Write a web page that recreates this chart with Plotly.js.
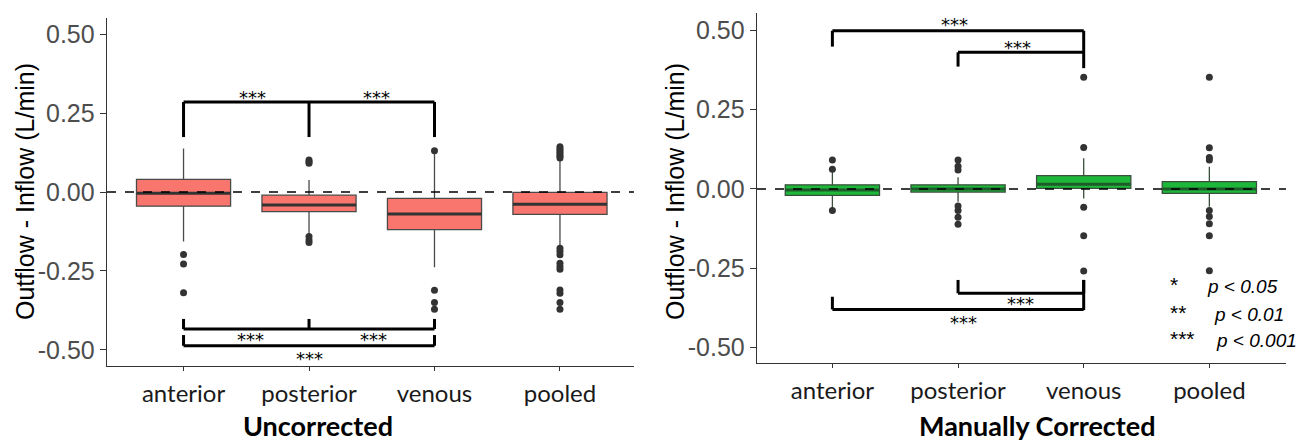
<!DOCTYPE html>
<html>
<head>
<meta charset="utf-8">
<script src="https://cdn.plot.ly/plotly-3.0.1.min.js"></script>
<style>html,body{margin:0;padding:0;background:#fff;}#chart{width:1297px;height:443px;}</style>
</head>
<body>
<div id="chart"></div>
<script>
// ---------- data ----------
const categories = ["anterior", "posterior", "venous", "pooled"];

// Uncorrected (left panel) box statistics
const uncQ1     = [-0.045, -0.062, -0.119, -0.071];
const uncMedian = [-0.004, -0.041, -0.070, -0.039];
const uncQ3     = [ 0.040, -0.010, -0.020, -0.001];
const uncLower  = [-0.157, -0.131, -0.238, -0.173];
const uncUpper  = [ 0.138,  0.038,  0.126,  0.105];
// Uncorrected outliers
const uncOutAnterior  = [-0.198, -0.228, -0.319];
const uncOutPosterior = [0.101, 0.096, 0.091, -0.141, -0.152, -0.160];
const uncOutVenous    = [0.131, -0.311, -0.350, -0.371];
const uncOutPooled    = [0.143, 0.137, 0.131, 0.125, 0.119, 0.113, 0.108,
                         -0.178, -0.188, -0.199, -0.226, -0.236, -0.245,
                         -0.310, -0.321, -0.350, -0.371];

// Manually corrected (right panel) box statistics
const corQ1     = [-0.020, -0.010, 0.002, -0.014];
const corMedian = [-0.003,  0.000, 0.015,  0.000];
const corQ3     = [ 0.013,  0.013, 0.042,  0.023];
const corLower  = [-0.060, -0.040, -0.030, -0.056];
const corUpper  = [ 0.055,  0.037,  0.097,  0.070];
// Manually corrected outliers
const corOutAnterior  = [0.091, 0.062, -0.068];
const corOutPosterior = [0.091, 0.072, 0.060, -0.054, -0.068, -0.089, -0.111];
const corOutVenous    = [0.352, 0.131, -0.058, -0.148, -0.259];
const corOutPooled    = [0.352, 0.130, 0.099, 0.091, -0.068, -0.087, -0.110, -0.148, -0.258];

// significance brackets: [fromCategoryIndex, toCategoryIndex, barLevel, leftTipLevel, rightTipLevel]
const uncBrackets = [
  [0, 2, 0.285, 0.174, 0.174],
  [1, 1, 0.285, 0.174, 0.174],
  [0, 2, -0.434, -0.402, -0.402],
  [1, 1, -0.434, -0.402, -0.402],
  [0, 2, -0.487, -0.453, -0.453]
];
const corBrackets = [
  [0, 2, 0.499, 0.449, 0.381],
  [1, 2, 0.431, 0.386, 0.431],
  [1, 2, -0.329, -0.287, -0.287],
  [2, 2, -0.382, -0.287, -0.287],
  [0, 2, -0.380, -0.340, -0.380]
];
// star labels: [xPosition (category units), yLevel]
const uncStars = [[0.55, 0.300], [1.54, 0.300], [0.53, -0.468], [1.51, -0.468], [1.0, -0.526]];
const corStars = [[0.97, 0.520], [1.47, 0.446], [1.50, -0.362], [1.04, -0.420]];

const legendStars = ["*", "**", "***"];
const legendTexts = ["p < 0.05", "p < 0.01", "p < 0.001"];
const yTitle = "Outflow - Inflow (L/min)";

// ---------- styling ----------
const red = "#F8766D";
const green = "#1DB83A";
const outlineCol = "#4a4a4a";
const pointCol = "#333333";

function outlierTrace(outs, xa, ya) {
  const xs = [], ys = [];
  outs.forEach((arr, i) => arr.forEach(v => { xs.push(categories[i]); ys.push(v); }));
  return {type: "scatter", mode: "markers", x: xs, y: ys, xaxis: xa, yaxis: ya,
          marker: {color: pointCol, size: 7}, showlegend: false, hoverinfo: "y"};
}
function boxTrace(q1, med, q3, lo, hi, fill, xa, ya, lineCol) {
  return {type: "box", x: categories, q1: q1, median: med, q3: q3,
          lowerfence: lo, upperfence: hi, xaxis: xa, yaxis: ya,
          fillcolor: fill, line: {color: lineCol, width: 1.3}, whiskerwidth: 0,
          width: 0.75, boxpoints: false, showlegend: false};
}

const traces = [
  boxTrace(uncQ1, uncMedian, uncQ3, uncLower, uncUpper, red, "x", "y", outlineCol),
  outlierTrace([uncOutAnterior, uncOutPosterior, uncOutVenous, uncOutPooled], "x", "y"),
  boxTrace(corQ1, corMedian, corQ3, corLower, corUpper, green, "x2", "y2", "#3a4f3d"),
  outlierTrace([corOutAnterior, corOutPosterior, corOutVenous, corOutPooled], "x2", "y2")
];

const shapes = [];
function medianShapes(med, xr, yr, col) {
  med.forEach((m, i) => shapes.push({type: "line", xref: xr, yref: yr,
    x0: i - 0.375, x1: i + 0.375, y0: m, y1: m, line: {color: col, width: 3}, layer: "above"}));
}
medianShapes(uncMedian, "x", "y", "#333333");
medianShapes(corMedian, "x2", "y2", "#1f5a2a");

function zeroLine(xr, yr) {
  shapes.push({type: "line", xref: xr + " domain", yref: yr, x0: 0, x1: 1, y0: 0, y1: 0,
               line: {color: "#000", width: 1.4, dash: "dash"}, layer: "above"});
}
zeroLine("x", "y");
zeroLine("x2", "y2");

function bracketShapes(list, xr, yr) {
  const ln = {color: "#000", width: 3};
  list.forEach(b => {
    const [a, c, bar, tipA, tipC] = b;
    if (a !== c) shapes.push({type: "line", xref: xr, yref: yr, x0: a, x1: c, y0: bar, y1: bar, line: ln});
    if (tipA !== bar) shapes.push({type: "line", xref: xr, yref: yr, x0: a, x1: a, y0: bar, y1: tipA, line: ln});
    if (a !== c && tipC !== bar) shapes.push({type: "line", xref: xr, yref: yr, x0: c, x1: c, y0: bar, y1: tipC, line: ln});
  });
}
bracketShapes(uncBrackets, "x", "y");
bracketShapes(corBrackets, "x2", "y2");

const annotations = [];
function starAnn(list, xr, yr) {
  list.forEach(s => annotations.push({xref: xr, yref: yr, x: s[0], y: s[1], text: "***",
    showarrow: false, font: {family: "DejaVu Sans", size: 18, color: "#000"}}));
}
starAnn(uncStars, "x", "y");
starAnn(corStars, "x2", "y2");

const legendY = [280, 308, 334];
const legendPX = [1205, 1212, 1214];
legendStars.forEach((s, i) => {
  annotations.push({xref: "paper", yref: "paper", x: 1168 / 1297, y: 1 - (legendY[i] + 4) / 443,
    xanchor: "left", yanchor: "middle", text: s, showarrow: false,
    font: {family: "Liberation Sans", size: 21, color: "#000"}});
  annotations.push({xref: "paper", yref: "paper", x: legendPX[i] / 1297, y: 1 - (legendY[i] + 6) / 443,
    xanchor: "left", yanchor: "middle", text: "<i>" + legendTexts[i] + "</i>", showarrow: false,
    font: {family: "Liberation Sans", size: 19, color: "#000"}});
});

// panel titles
annotations.push({xref: "paper", yref: "paper", x: 318 / 1297, y: 1 - 425 / 443, xanchor: "center", yanchor: "middle",
  text: "<b>Uncorrected</b>", showarrow: false, font: {family: "Lato", size: 27, color: "#000"}});
annotations.push({xref: "paper", yref: "paper", x: 1037 / 1297, y: 1 - 425 / 443, xanchor: "center", yanchor: "middle",
  text: "<b>Manually Corrected</b>", showarrow: false, font: {family: "Lato", size: 27, color: "#000"}});
// y axis titles
[[25, 192], [675, 192]].forEach(p => annotations.push({xref: "paper", yref: "paper",
  x: p[0] / 1297, y: 1 - p[1] / 443, xanchor: "center", yanchor: "middle", textangle: -90,
  text: yTitle, showarrow: false, font: {family: "Liberation Sans", size: 25, color: "#000"}}));

function xAxis(dom, anchor, range) {
  return {domain: dom, anchor: anchor, type: "category", range: range,
          showline: true, linecolor: "#333", linewidth: 1.3, ticks: "outside", ticklen: 4,
          tickcolor: "#333", showgrid: false, zeroline: false, ticklabelstandoff: 2,
          tickfont: {family: "Lato", size: 24, color: "#1a1a1a"}, fixedrange: true};
}
function yAxis(dom, anchor, range) {
  return {domain: dom, anchor: anchor, range: range,
          tickvals: [-0.5, -0.25, 0, 0.25, 0.5], ticktext: ["-0.50", "-0.25", "0.00", "0.25", "0.50"],
          showline: true, linecolor: "#333", linewidth: 1.3, ticks: "outside", ticklen: 6,
          tickcolor: "#333", showgrid: false, zeroline: false, ticklabelstandoff: 0,
          tickfont: {family: "Liberation Sans", size: 25, color: "#4d4d4d"}, fixedrange: true};
}

const layout = {
  width: 1297, height: 443,
  margin: {l: 0, r: 0, t: 0, b: 0},
  paper_bgcolor: "#fff", plot_bgcolor: "#fff",
  showlegend: false,
  xaxis: xAxis([107 / 1297, 634 / 1297], "y", [-0.61, 3.59]),
  yaxis: yAxis([1 - 366 / 443, 1 - 18 / 443], "x", [-0.551, 0.551]),
  xaxis2: xAxis([757 / 1297, 1286 / 1297], "y2", [-0.6, 3.61]),
  yaxis2: yAxis([1 - 363 / 443, 1 - 13 / 443], "x2", [-0.549, 0.555]),
  shapes: shapes,
  annotations: annotations
};

Plotly.newPlot("chart", traces, layout, {displayModeBar: false, staticPlot: true});
</script>
</body>
</html>
